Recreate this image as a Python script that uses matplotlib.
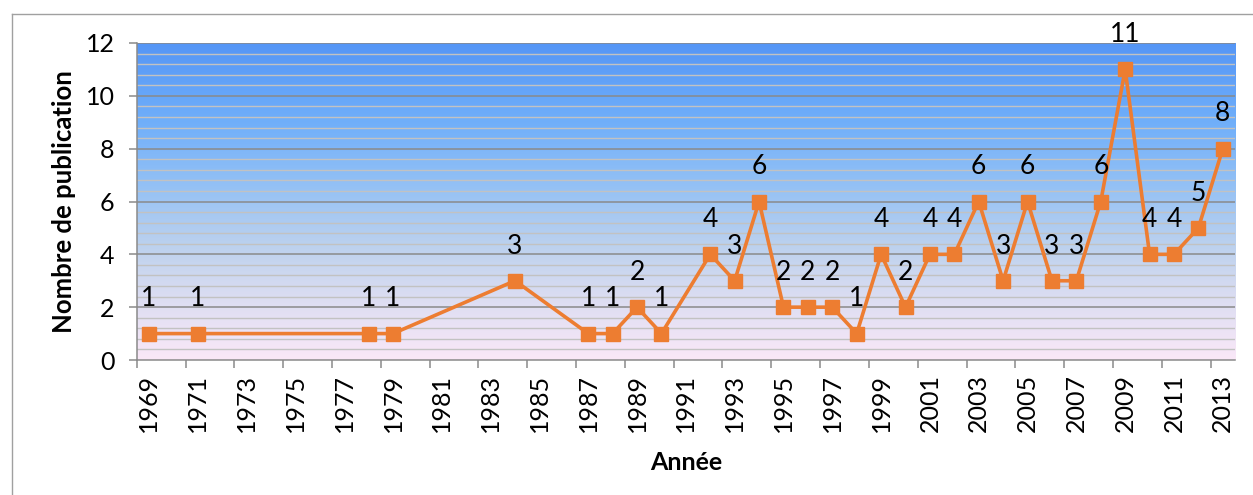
import matplotlib
matplotlib.use("Agg")
import matplotlib.pyplot as plt
import numpy as np
from matplotlib.lines import Line2D
from matplotlib.colors import LinearSegmentedColormap
from matplotlib.ticker import FixedLocator, MultipleLocator

plt.rcParams['font.family'] = ['Lato', 'DejaVu Sans']

years = [1969, 1971, 1978, 1979, 1984, 1987, 1988, 1989, 1990, 1992, 1993, 1994,
         1995, 1996, 1997, 1998, 1999, 2000, 2001, 2002, 2003, 2004, 2005, 2006,
         2007, 2008, 2009, 2010, 2011, 2012, 2013]
counts = [1, 1, 1, 1, 3, 1, 1, 2, 1, 4, 3, 6,
          2, 2, 2, 1, 4, 2, 4, 4, 6, 3, 6, 3,
          3, 6, 11, 4, 4, 5, 8]
tick_years = list(range(1969, 2014, 2))
x_title = "Année"
y_title = "Nombre de publication"

W, H = 1253, 495
fig = plt.figure(figsize=(W / 100, H / 100), dpi=100)
fig.patch.set_facecolor('white')

left, right, top, bottom = 136.7, 1235, 43, 360
ax = fig.add_axes([left / W, 1 - bottom / H, (right - left) / W, (bottom - top) / H])

xmin, xmax = 1968.5, 2013.5
ymin, ymax = 0, 12
ax.set_xlim(xmin, xmax)
ax.set_ylim(ymin, ymax)

# background gradient
cmap = LinearSegmentedColormap.from_list('bg', [
    (0.0, (250/255, 232/255, 248/255)),
    (0.18, (222/255, 222/255, 242/255)),
    (0.35, (190/255, 210/255, 238/255)),
    (0.55, (148/255, 193/255, 245/255)),
    (0.75, (112/255, 175/255, 250/255)),
    (1.0, (85/255, 150/255, 246/255)),
])
grad = np.linspace(0, 1, 256).reshape(-1, 1)
ax.imshow(grad, extent=[xmin, xmax, ymin, ymax], origin='lower', aspect='auto',
          cmap=cmap, zorder=0, interpolation='bicubic')

# grid
for yv in np.arange(0.4, 12.01, 0.4):
    if abs(yv / 2 - round(yv / 2)) < 1e-6:
        ax.axhline(yv, color='#8a8a8a', lw=1.1, zorder=1)
    else:
        ax.axhline(yv, color='#c2c2c2', lw=1.0, zorder=1)

ax.plot(years, counts, color='#ED7D31', lw=2.6, marker='s', markersize=10,
        markerfacecolor='#ED7D31', markeredgecolor='#ED7D31', zorder=3, clip_on=False)

for xv, yv in zip(years, counts):
    ax.annotate(str(yv), (xv, yv), xytext=(0, 16), textcoords='offset points',
                ha='center', va='bottom', fontsize=19, color='black', zorder=4,
                annotation_clip=False)

# spines
for s in ['top', 'right']:
    ax.spines[s].set_visible(False)
for s in ['left', 'bottom']:
    ax.spines[s].set_color('#8a8a8a')
    ax.spines[s].set_linewidth(1.1)

ax.yaxis.set_major_locator(MultipleLocator(2))
ax.tick_params(axis='y', which='major', length=6, width=1.1, color='#8a8a8a',
               labelsize=18, pad=10)

ax.xaxis.set_major_locator(FixedLocator(tick_years))
ax.set_xticklabels([str(t) for t in tick_years], rotation=90)
ax.tick_params(axis='x', which='major', length=0, labelsize=18, pad=10)
ax.xaxis.set_minor_locator(FixedLocator(np.arange(1968.5, 2013.6, 2)))
ax.tick_params(axis='x', which='minor', length=6, width=1.1, color='#8a8a8a')

ax.set_xlabel(x_title, fontsize=18, fontweight='bold', labelpad=14)
ax.set_ylabel(y_title, fontsize=18.5, fontweight='bold', labelpad=7)

# outer frame
fig.add_artist(Line2D([11.5 / W, 11.5 / W], [0, 1 - 13.5 / H], transform=fig.transFigure,
                      color='#a0a0a0', lw=1.0))
fig.add_artist(Line2D([11.5 / W, 1.0], [1 - 13.5 / H, 1 - 13.5 / H], transform=fig.transFigure,
                      color='#a0a0a0', lw=1.0))

fig.savefig('out.png', dpi=100, facecolor='white')
